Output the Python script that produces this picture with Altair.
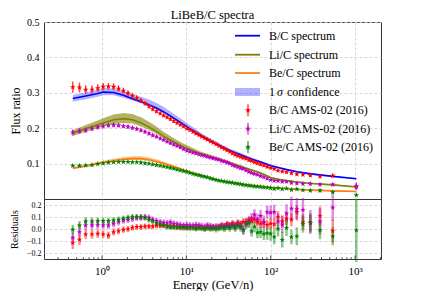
import altair as alt
import pandas as pd

# ---------------- data ----------------
energy = [0.45, 0.54, 0.64, 0.76, 0.89, 1.03, 1.19, 1.37, 1.57, 1.79,
          2.03, 2.29, 2.58, 2.89, 3.23, 3.60, 3.99, 4.42, 4.89, 5.38,
          5.90, 6.47, 7.09, 7.76, 8.48, 9.26, 10.1, 11.0, 12.0, 13.0,
          14.1, 15.2, 16.5, 17.8, 19.3, 20.8, 22.5, 24.3, 26.2, 28.2,
          30.4, 32.7, 35.2, 37.9, 40.8, 44.0, 47.3, 51.1, 55.1, 59.3,
          64.1, 69.6, 75.8, 82.8, 90.8, 99.8, 110, 122, 137, 154,
          176, 204, 241, 295, 384, 544, 1035]

bc_data = [0.316, 0.315, 0.309, 0.309, 0.313, 0.317, 0.318, 0.317, 0.312, 0.306,
           0.299, 0.292, 0.285, 0.278, 0.270, 0.262, 0.254, 0.248, 0.242, 0.236,
           0.231, 0.226, 0.220, 0.215, 0.210, 0.205, 0.199, 0.195, 0.190, 0.185,
           0.181, 0.176, 0.172, 0.168, 0.163, 0.159, 0.155, 0.150, 0.146, 0.142,
           0.138, 0.134, 0.129, 0.125, 0.122, 0.119, 0.116, 0.114, 0.110, 0.108,
           0.104, 0.101, 0.098, 0.095, 0.091, 0.088, 0.085, 0.080, 0.078, 0.076,
           0.073, 0.070, 0.069, 0.067, 0.064, 0.066, 0.035]

lic_data = [0.188, 0.192, 0.194, 0.199, 0.203, 0.206, 0.208, 0.209, 0.208, 0.206,
            0.204, 0.201, 0.198, 0.194, 0.190, 0.185, 0.180, 0.176, 0.171, 0.167,
            0.162, 0.158, 0.154, 0.150, 0.146, 0.141, 0.137, 0.134, 0.131, 0.129,
            0.126, 0.124, 0.122, 0.119, 0.117, 0.115, 0.113, 0.111, 0.108, 0.106,
            0.103, 0.100, 0.096, 0.093, 0.090, 0.087, 0.085, 0.081, 0.077, 0.074,
            0.071, 0.069, 0.065, 0.062, 0.058, 0.054, 0.052, 0.051, 0.049, 0.049,
            0.046, 0.044, 0.043, 0.043, 0.041, 0.041, 0.036]

bec_data = [0.094, 0.094, 0.095, 0.096, 0.099, 0.101, 0.103, 0.104, 0.105, 0.105,
            0.105, 0.104, 0.104, 0.103, 0.101, 0.100, 0.098, 0.096, 0.094, 0.092,
            0.090, 0.088, 0.086, 0.083, 0.081, 0.079, 0.077, 0.074, 0.071, 0.069,
            0.067, 0.065, 0.063, 0.061, 0.058, 0.056, 0.054, 0.052, 0.051, 0.049,
            0.048, 0.047, 0.046, 0.044, 0.043, 0.042, 0.040, 0.039, 0.038, 0.037,
            0.036, 0.035, 0.034, 0.033, 0.032, 0.031, 0.029, 0.031, 0.028, 0.030,
            0.026, 0.028, 0.025, 0.024, 0.024, 0.019, 0.011]

bc_res = [-0.117, -0.089, -0.044, -0.044, -0.039, -0.044, -0.053, -0.025, -0.017, -0.006,
          0.000, 0.011, 0.017, 0.017, 0.022, 0.022, 0.022, 0.028, 0.028, 0.031,
          0.022, 0.020, 0.025, 0.012, 0.018, 0.020, 0.010, 0.015, 0.012, 0.008,
          0.015, 0.010, 0.005, 0.012, 0.008, 0.018, 0.012, 0.020, 0.030, 0.025,
          0.040, 0.030, 0.045, 0.035, 0.050, 0.040, 0.060, 0.055, 0.075, 0.065,
          0.080, 0.060, 0.045, 0.050, 0.035, 0.044, 0.040, 0.100, 0.064, 0.086,
          0.078, 0.140, 0.058, 0.050, 0.108, -0.017, None]

lic_res = [-0.072, -0.025, 0.030, 0.030, 0.033, 0.030, 0.030, 0.044, 0.058, 0.072,
           0.078, 0.086, 0.094, 0.094, 0.100, 0.094, 0.078, 0.067, 0.058, 0.053,
           0.050, 0.055, 0.045, 0.040, 0.035, 0.030, 0.035, 0.030, 0.028, 0.035,
           0.030, 0.025, 0.020, 0.030, 0.025, 0.015, 0.020, 0.015, 0.025, 0.020,
           0.030, 0.025, 0.035, 0.020, 0.040, 0.030, -0.010, 0.050, 0.060, 0.090,
           0.120, 0.080, 0.110, 0.060, 0.140, 0.136, 0.140, 0.064, 0.036, 0.130,
           0.170, 0.165, 0.160, 0.058, 0.064, 0.178, None]

bec_res = [-0.006, 0.030, 0.064, 0.064, 0.067, 0.067, 0.067, 0.072, 0.078, 0.086,
           0.094, 0.100, 0.100, 0.100, 0.094, 0.078, 0.067, 0.050, 0.039, 0.030,
           0.022, 0.018, 0.015, 0.020, 0.012, 0.010, 0.015, 0.008, 0.012, 0.005,
           0.010, 0.008, 0.002, 0.010, 0.005, 0.008, 0.000, 0.010, 0.015, 0.005,
           0.020, 0.010, 0.025, 0.012, 0.030, 0.015, -0.005, 0.040, 0.050, -0.020,
           0.020, -0.030, -0.025, -0.040, -0.035, -0.039, -0.067, 0.000, -0.090, 0.010,
           -0.067, -0.061, 0.040, 0.050, -0.011, -0.061, -0.011]

bc_rerr = [0.050, 0.045, 0.040, 0.037, 0.035, 0.033, 0.031, 0.030, 0.028, 0.027,
           0.026, 0.025, 0.025, 0.024, 0.024, 0.023, 0.023, 0.023, 0.022, 0.022,
           0.022, 0.022, 0.022, 0.022, 0.022, 0.022, 0.022, 0.022, 0.022, 0.022,
           0.023, 0.023, 0.023, 0.024, 0.024, 0.024, 0.025, 0.025, 0.026, 0.026,
           0.027, 0.027, 0.028, 0.029, 0.030, 0.031, 0.032, 0.033, 0.034, 0.035,
           0.036, 0.037, 0.038, 0.040, 0.041, 0.043, 0.045, 0.048, 0.050, 0.053,
           0.056, 0.060, 0.065, 0.070, 0.080, 0.095, 0.200]

lic_rerr = [0.045, 0.040, 0.037, 0.035, 0.033, 0.032, 0.031, 0.030, 0.029, 0.028,
            0.028, 0.027, 0.027, 0.027, 0.026, 0.026, 0.026, 0.026, 0.026, 0.026,
            0.026, 0.026, 0.026, 0.026, 0.026, 0.026, 0.026, 0.026, 0.027, 0.027,
            0.027, 0.027, 0.028, 0.028, 0.028, 0.029, 0.029, 0.030, 0.030, 0.031,
            0.032, 0.033, 0.034, 0.035, 0.036, 0.037, 0.038, 0.040, 0.041, 0.043,
            0.045, 0.047, 0.050, 0.052, 0.055, 0.058, 0.062, 0.066, 0.070, 0.075,
            0.100, 0.095, 0.100, 0.100, 0.110, 0.110, 0.300]

bec_rerr = [0.040, 0.036, 0.033, 0.031, 0.030, 0.029, 0.028, 0.027, 0.026, 0.025,
            0.025, 0.024, 0.024, 0.024, 0.024, 0.024, 0.024, 0.024, 0.024, 0.024,
            0.024, 0.024, 0.024, 0.024, 0.024, 0.025, 0.025, 0.025, 0.025, 0.026,
            0.026, 0.026, 0.027, 0.027, 0.028, 0.028, 0.029, 0.029, 0.030, 0.031,
            0.032, 0.033, 0.034, 0.035, 0.036, 0.037, 0.038, 0.040, 0.042, 0.044,
            0.046, 0.048, 0.050, 0.052, 0.055, 0.058, 0.060, 0.062, 0.065, 0.068,
            0.060, 0.075, 0.070, 0.080, 0.075, 0.075, 0.265]

model_energy = [0.45, 0.64, 0.89, 1.03, 1.37, 1.79, 2.29, 2.89, 3.6, 4.4,
                5.4, 6.5, 7.8, 9.3, 11, 13, 15.2, 17.8, 20.8, 24.3,
                28.2, 32.7, 37.9, 44, 51, 59, 70, 83, 100, 122,
                154, 204, 295, 544, 1035]

bc_model = [0.284, 0.291, 0.298, 0.302, 0.301, 0.293, 0.283, 0.275, 0.266, 0.257,
            0.246, 0.234, 0.222, 0.210, 0.199, 0.188, 0.178, 0.168, 0.160, 0.152,
            0.144, 0.137, 0.131, 0.125, 0.119, 0.113, 0.107, 0.101, 0.094, 0.089,
            0.083, 0.077, 0.071, 0.064, 0.057]
lic_model = [0.186, 0.199, 0.210, 0.215, 0.224, 0.227, 0.224, 0.215, 0.203, 0.191,
             0.177, 0.166, 0.156, 0.147, 0.140, 0.133, 0.127, 0.122, 0.117, 0.112,
             0.107, 0.102, 0.097, 0.092, 0.087, 0.082, 0.076, 0.069, 0.060, 0.056,
             0.052, 0.048, 0.044, 0.040, 0.034]
bec_model = [0.087, 0.093, 0.100, 0.103, 0.108, 0.112, 0.114, 0.114, 0.111, 0.106,
             0.100, 0.094, 0.088, 0.081, 0.076, 0.071, 0.066, 0.062, 0.057, 0.053,
             0.050, 0.047, 0.045, 0.043, 0.041, 0.039, 0.037, 0.035, 0.033, 0.031,
             0.029, 0.027, 0.025, 0.023, 0.021]

bc_band_up = [0.010, 0.010, 0.011, 0.011, 0.011, 0.012, 0.013, 0.014, 0.015, 0.015,
              0.014, 0.013, 0.012, 0.011, 0.010, 0.009, 0.008, 0.007, 0.007, 0.006,
              0.006, 0.005, 0.005, 0.005, 0.005, 0.004, 0.004, 0.004, 0.004, 0.003,
              0.003, 0.003, 0.003, 0.002, 0.002]
bc_band_lo = [0.009, 0.009, 0.009, 0.009, 0.008, 0.007, 0.005, 0.004, 0.003, 0.003,
              0.003, 0.003, 0.003, 0.003, 0.003, 0.003, 0.003, 0.003, 0.003, 0.003,
              0.003, 0.003, 0.003, 0.003, 0.003, 0.003, 0.002, 0.002, 0.002, 0.002,
              0.002, 0.002, 0.002, 0.001, 0.001]
lic_band_up = [0.008, 0.010, 0.012, 0.013, 0.015, 0.016, 0.016, 0.016, 0.015, 0.014,
               0.012, 0.011, 0.010, 0.009, 0.008, 0.007, 0.006, 0.006, 0.005, 0.005,
               0.004, 0.004, 0.004, 0.004, 0.003, 0.003, 0.003, 0.003, 0.003, 0.002,
               0.002, 0.002, 0.002, 0.002, 0.002]
lic_band_lo = [0.008, 0.009, 0.010, 0.011, 0.012, 0.012, 0.011, 0.010, 0.008, 0.007,
               0.006, 0.005, 0.005, 0.004, 0.004, 0.004, 0.003, 0.003, 0.003, 0.003,
               0.003, 0.003, 0.003, 0.002, 0.002, 0.002, 0.002, 0.002, 0.002, 0.002,
               0.002, 0.001, 0.001, 0.001, 0.001]
bec_band_up = [0.004, 0.004, 0.005, 0.005, 0.006, 0.006, 0.007, 0.007, 0.006, 0.006,
               0.005, 0.005, 0.004, 0.004, 0.004, 0.003, 0.003, 0.003, 0.003, 0.003,
               0.002, 0.002, 0.002, 0.002, 0.002, 0.002, 0.002, 0.002, 0.002, 0.002,
               0.002, 0.002, 0.002, 0.002, 0.002]
bec_band_lo = [0.003, 0.003, 0.004, 0.004, 0.004, 0.004, 0.004, 0.004, 0.004, 0.004,
               0.003, 0.003, 0.003, 0.003, 0.003, 0.002, 0.002, 0.002, 0.002, 0.002,
               0.002, 0.002, 0.002, 0.002, 0.002, 0.002, 0.002, 0.001, 0.001, 0.001,
               0.001, 0.001, 0.001, 0.001, 0.001]

series_names = ["B/C", "Li/C", "Be/C"]
point_colors = ["#ff0000", "#bf00bf", "#008000"]
line_colors = ["#0000ff", "#808000", "#ff7f0e"]
band_opacity = [0.3, 0.6, 0.5]

x_ticks = [1, 10, 100, 1000]
x_tick_labels = ["10\u2070", "10\u00b9", "10\u00b2", "10\u00b3"]
minor_ticks = [0.3, 0.4, 0.5, 0.6, 0.7, 0.8, 0.9, 2, 3, 4, 5, 6, 7, 8, 9,
               20, 30, 40, 50, 60, 70, 80, 90, 200, 300, 400, 500, 600, 700, 800, 900, 2000]
main_y_ticks = [0.1, 0.2, 0.3, 0.4, 0.5]
res_y_ticks = [-0.2, -0.1, 0.0, 0.1, 0.2]

legend_labels = ["B/C spectrum", "Li/C spectrum", "Be/C spectrum", "confidence",
                 "B/C AMS-02 (2016)", "Li/C AMS-02 (2016)", "Be/C AMS-02 (2016)"]

# ---------------- tables ----------------
rows = []
for name, vals, res, rerr in zip(series_names, [bc_data, lic_data, bec_data],
                                 [bc_res, lic_res, bec_res], [bc_rerr, lic_rerr, bec_rerr]):
    for e, v, r, s in zip(energy, vals, res, rerr):
        rows.append({"series": name, "E": e, "val": v, "err": s * v, "res": r, "rerr": s})
pts = pd.DataFrame(rows)

mrows = []
for name, mod, up, lo in zip(series_names, [bc_model, lic_model, bec_model],
                             [bc_band_up, lic_band_up, bec_band_up],
                             [bc_band_lo, lic_band_lo, bec_band_lo]):
    for e, m, u, l in zip(model_energy, mod, up, lo):
        mrows.append({"series": name, "E": e, "m": m, "hi": m + u, "lo": m - l})
mod_df = pd.DataFrame(mrows)

FONT = "Liberation Serif"
STAR = ("M0,-1L0.2245,-0.309L0.9511,-0.309L0.3633,0.118L0.5878,0.809L0,0.382"
        "L-0.5878,0.809L-0.3633,0.118L-0.9511,-0.309L-0.2245,-0.309Z")

W = 337
H_MAIN = 177
H_RES = 60

x_scale = alt.Scale(type="log", domain=[0.205, 2030], nice=False)
y_main_scale = alt.Scale(domain=[0, 0.5], nice=False, zero=False)
y_res_scale = alt.Scale(domain=[-0.25, 0.25], nice=False, zero=False)

pt_fill = alt.Fill("series:N", scale=alt.Scale(domain=series_names, range=point_colors), legend=None)
pt_stroke = alt.Stroke("series:N", scale=alt.Scale(domain=series_names, range=point_colors), legend=None)
ln_color = alt.Color("series:N", scale=alt.Scale(domain=series_names, range=line_colors), legend=None)

x_main = alt.X("E:Q", scale=x_scale,
               axis=alt.Axis(values=x_ticks, labels=False, ticks=False, domain=False,
                             grid=True, title=None, minExtent=0, maxExtent=0, offset=0))
main_axis = alt.Axis(values=main_y_ticks, format=".1f", title="Flux ratio", titleFontSize=12,
                     labelFontSize=10, labelPadding=5, ticks=False, domain=False,
                     titlePadding=4.5, grid=True)

label_expr = " : ".join(
    [f"datum.value == {v} ? '{t}'" for v, t in zip(x_ticks, x_tick_labels)]) + " : ''"
x_res = alt.X("E:Q", scale=x_scale,
              axis=alt.Axis(values=x_ticks, labelExpr=label_expr, labelFontSize=11,
                            labelPadding=6, ticks=False, domain=False, grid=True,
                            title="Energy (GeV/n)", titleFontSize=12.5, titlePadding=2))
res_axis = alt.Axis(values=res_y_ticks, format=".1f", title="Residuals", titleFontSize=10,
                    labelFontSize=8, labelPadding=3, ticks=False, domain=False,
                    titlePadding=6.5, grid=True)

# ---------------- main panel ----------------
bands = []
for name, col, op in zip(series_names, line_colors, band_opacity):
    bands.append(
        alt.Chart(mod_df).transform_filter(alt.datum.series == name)
        .mark_area(color=col, opacity=op)
        .encode(x=x_main, y=alt.Y("lo:Q", scale=y_main_scale, axis=main_axis), y2="hi:Q")
    )

lines = alt.Chart(mod_df).mark_line(strokeWidth=1.6).encode(
    x=x_main, y=alt.Y("m:Q", scale=y_main_scale, axis=main_axis), color=ln_color,
    detail="series:N", order="E:Q")

base_pts = alt.Chart(pts).transform_calculate(
    lo="datum.val - datum.err", hi="datum.val + datum.err")
ebars = base_pts.mark_rule(strokeWidth=1.5, opacity=0.7).encode(
    x=x_main, y=alt.Y("lo:Q", scale=y_main_scale, axis=main_axis), y2="hi:Q", stroke=pt_stroke)
stars = base_pts.mark_point(shape=STAR, filled=True, size=36, opacity=1, strokeWidth=0).encode(
    x=x_main, y=alt.Y("val:Q", scale=y_main_scale, axis=main_axis), fill=pt_fill)

one = alt.Data(values=[{"k": 1}])
rows_y = [13.7, 32.7, 51, 70, 88.3, 106.7, 125.3]
LX0, LX1, LXS, LXT = 191, 216, 204, 225
leg = []
for i in range(3):
    leg.append(alt.Chart(one).mark_rule(color=line_colors[i], strokeWidth=1.8).encode(
        x=alt.value(LX0), x2=alt.value(LX1), y=alt.value(rows_y[i])))
leg.append(alt.Chart(one).mark_rect(color="#0000ff", opacity=0.3).encode(
    x=alt.value(LX0), x2=alt.value(LX1), y=alt.value(rows_y[3] - 4), y2=alt.value(rows_y[3] + 4)))
for i in range(3):
    r = rows_y[4 + i]
    leg.append(alt.Chart(one).mark_rule(color=point_colors[i], strokeWidth=1.5, opacity=0.7).encode(
        x=alt.value(LXS), y=alt.value(r - 6), y2=alt.value(r + 6)))
    leg.append(alt.Chart(one).mark_point(shape=STAR, filled=True, size=40, color=point_colors[i],
                                         opacity=1, strokeWidth=0).encode(
        x=alt.value(LXS), y=alt.value(r)))
for i, lab in enumerate(legend_labels):
    if i == 3:
        leg.append(alt.Chart(one).mark_text(text="1", align="left", baseline="middle",
                                            fontSize=12, font=FONT).encode(
            x=alt.value(LXT), y=alt.value(rows_y[i])))
        leg.append(alt.Chart(one).mark_text(text="\u03c3", align="left", baseline="middle",
                                            fontSize=12, font=FONT, fontStyle="italic").encode(
            x=alt.value(LXT + 8), y=alt.value(rows_y[i])))
        leg.append(alt.Chart(one).mark_text(text=lab, align="left", baseline="middle",
                                            fontSize=12, font=FONT).encode(
            x=alt.value(LXT + 18), y=alt.value(rows_y[i])))
    else:
        leg.append(alt.Chart(one).mark_text(text=lab, align="left", baseline="middle",
                                            fontSize=12, font=FONT).encode(
            x=alt.value(LXT), y=alt.value(rows_y[i])))

main = alt.layer(*bands, lines, ebars, stars, *leg).properties(
    width=W, height=H_MAIN,
    title=alt.TitleParams("LiBeB/C spectra", fontSize=12.5, font=FONT, fontWeight="normal",
                          offset=-4, anchor="middle", frame="group"))

# ---------------- residual panel ----------------
base_res = alt.Chart(pts).transform_filter("datum.res != null").transform_calculate(
    rlo="datum.res - datum.rerr", rhi="datum.res + datum.rerr")
rbars = base_res.mark_rule(strokeWidth=2.5, opacity=0.45).encode(
    x=x_res, y=alt.Y("rlo:Q", scale=y_res_scale, axis=res_axis), y2="rhi:Q", stroke=pt_stroke)
rstars = base_res.mark_point(shape=STAR, filled=True, size=32, opacity=1, strokeWidth=0).encode(
    x=x_res, y=alt.Y("res:Q", scale=y_res_scale, axis=res_axis), fill=pt_fill)

minor_df = pd.DataFrame({"E": minor_ticks})
major_df = pd.DataFrame({"E": x_ticks})
minor_t = alt.Chart(minor_df).mark_rule(color="#333", strokeWidth=0.8).encode(
    x=x_res, y=alt.value(H_RES), y2=alt.value(H_RES - 2))
major_t = alt.Chart(major_df).mark_rule(color="#333", strokeWidth=0.9).encode(
    x=x_res, y=alt.value(H_RES), y2=alt.value(H_RES - 3.5))

resid = alt.layer(rbars, rstars, minor_t, major_t).properties(width=W, height=H_RES)

chart = alt.vconcat(main, resid, spacing=0, bounds="flush").properties(padding=0).configure_view(
    stroke="#333", strokeWidth=1
).configure_axis(
    labelFont=FONT, titleFont=FONT, titleFontWeight="normal", labelColor="#000",
    titleColor="#000", gridColor="#cfcfcf", gridDash=[3, 2], gridWidth=0.8
).configure_title(font=FONT, fontWeight="normal", color="#000")

chart.save("out.html", embed_options={"renderer": "svg", "actions": False})
